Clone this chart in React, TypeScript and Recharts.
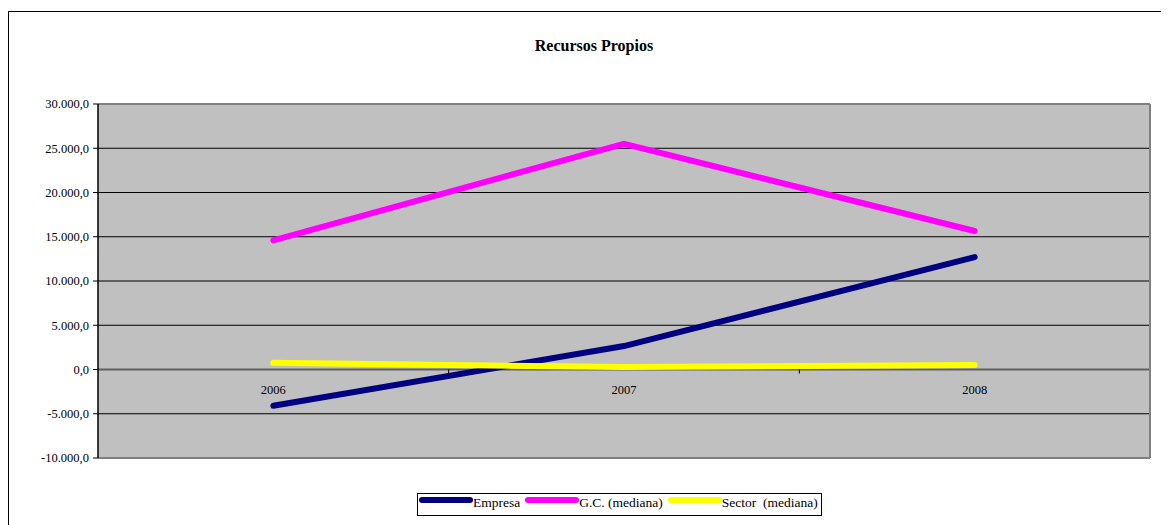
import {
  LineChart,
  Line,
  XAxis,
  YAxis,
  CartesianGrid,
  ReferenceLine,
  Legend,
} from 'recharts';

const years = ['2006', '2007', '2008'];
const empresa = [-4100, 2650, 12700];
const gcMediana = [14600, 25500, 15650];
const sectorMediana = [750, 280, 500];
const yTicks = [-10000, -5000, 0, 5000, 10000, 15000, 20000, 25000, 30000];

const data = years.map((year, i) => ({
  year,
  empresa: empresa[i],
  gc: gcMediana[i],
  sector: sectorMediana[i],
}));

const FONT = '"Liberation Serif", "Times New Roman", serif';
const W = 1160;
const H = 513;
const PLOT_LEFT = 89;
const PLOT_RIGHT_GAP = 19;
const PLOT_TOP = 92;
const PLOT_H = 354;
const PLOT_W = W - PLOT_LEFT - PLOT_RIGHT_GAP;
const STEP = PLOT_W / years.length;
const Y_MIN = -10000;
const Y_MAX = 30000;
const ZERO_Y = PLOT_TOP + (PLOT_H * Y_MAX) / (Y_MAX - Y_MIN);

const fmt = (v: number) => {
  const [i, d] = Math.abs(v).toFixed(1).split('.');
  return (v < 0 ? '-' : '') + i.replace(/\B(?=(\d{3})+(?!\d))/g, '.') + ',' + d;
};

// category labels sit under the zero line, tick marks at the category borders
const CatTick = (props: any) => {
  const { x, payload, index } = props;
  return (
    <g>
      {index < years.length - 1 && (
        <line x1={x + STEP / 2} x2={x + STEP / 2} y1={ZERO_Y} y2={ZERO_Y + 4} stroke="#000" />
      )}
      <text
        x={x}
        y={ZERO_Y + 24.5}
        textAnchor="middle"
        fontSize={12.5}
        fontFamily={FONT}
        fill="#000"
      >
        {payload.value}
      </text>
    </g>
  );
};

const renderLegend = (props: any) => {
  const { payload } = props;
  return (
    <div
      style={{
        display: 'flex',
        alignItems: 'flex-start',
        border: '1px solid #000',
        height: 21,
        padding: '0 3px 0 1px',
        background: '#fff',
        fontSize: 13.5,
        fontFamily: FONT,
        color: '#000',
        whiteSpace: 'pre',
      }}
    >
      {payload.map((entry: any, i: number) => (
        <div key={`leg-${i}`} style={{ display: 'flex', alignItems: 'flex-start', marginRight: i < 2 ? 5 : 0 }}>
          <span
            style={{
              display: 'inline-block',
              width: 54,
              height: 6,
              borderRadius: 3,
              background: entry.color,
              marginTop: 3,
            }}
          />
          <span style={{ lineHeight: '16px', marginTop: 1 }}>{entry.value}</span>
        </div>
      ))}
    </div>
  );
};

export default function App() {
  return (
    <div style={{ paddingTop: 3, fontFamily: FONT }}>
      <div
        style={{
          position: 'relative',
          width: W,
          height: H,
          borderLeft: '1px solid #000',
          borderTop: '1px solid #000',
        }}
      >
        <div
          style={{
            position: 'absolute',
            left: 585,
            top: 25,
            transform: 'translateX(-50%)',
            fontWeight: 'bold',
            fontSize: 16,
            lineHeight: '18px',
            whiteSpace: 'nowrap',
            color: '#000',
          }}
        >
          Recursos Propios
        </div>
        <LineChart
          width={W}
          height={H}
          data={data}
          margin={{ top: PLOT_TOP, right: PLOT_RIGHT_GAP - 1, bottom: H - PLOT_TOP - PLOT_H - 1, left: 0 }}
          style={{ fontFamily: FONT }}
        >
          <CartesianGrid vertical={false} stroke="#000" fill="#C0C0C0" fillOpacity={1} />
          <XAxis
            dataKey="year"
            padding={{ left: STEP / 2, right: STEP / 2 }}
            axisLine={false}
            tickLine={false}
            height={1}
            tick={(p: any) => <CatTick {...p} />}
            interval={0}
          />
          <YAxis
            type="number"
            domain={[Y_MIN, Y_MAX]}
            ticks={yTicks}
            interval={0}
            width={PLOT_LEFT}
            tickFormatter={fmt}
            tick={{ fontSize: 12.5, fill: '#000', fontFamily: FONT }}
            axisLine={{ stroke: '#000', strokeWidth: 1.5 }}
            tickLine={{ stroke: '#000' }}
            tickSize={5}
            tickMargin={4}
          />
          <YAxis
            yAxisId="frame"
            orientation="right"
            type="number"
            domain={[Y_MIN, Y_MAX]}
            width={1}
            tick={false}
            tickLine={false}
            axisLine={{ stroke: '#808080', strokeWidth: 2 }}
          />
          <ReferenceLine y={Y_MAX} stroke="#808080" strokeWidth={2} />
          <ReferenceLine y={Y_MIN} stroke="#808080" strokeWidth={2} />
          <ReferenceLine y={0} stroke="#606060" strokeWidth={2} />
          <Line
            type="linear"
            dataKey="empresa"
            name="Empresa"
            stroke="#000080"
            strokeWidth={6}
            strokeLinecap="round"
            dot={false}
            activeDot={false}
            isAnimationActive={false}
          />
          <Line
            type="linear"
            dataKey="gc"
            name="G.C. (mediana)"
            stroke="#FF00FF"
            strokeWidth={6}
            strokeLinecap="round"
            dot={false}
            activeDot={false}
            isAnimationActive={false}
          />
          <Line
            type="linear"
            dataKey="sector"
            name="Sector  (mediana)"
            stroke="#FFFF00"
            strokeWidth={6}
            strokeLinecap="round"
            dot={false}
            activeDot={false}
            isAnimationActive={false}
          />
          <Legend
            layout="horizontal"
            verticalAlign="middle"
            align="center"
            content={renderLegend}
            wrapperStyle={{ left: 408, top: 481, width: 'auto', height: 'auto' }}
          />
        </LineChart>
      </div>
    </div>
  );
}
